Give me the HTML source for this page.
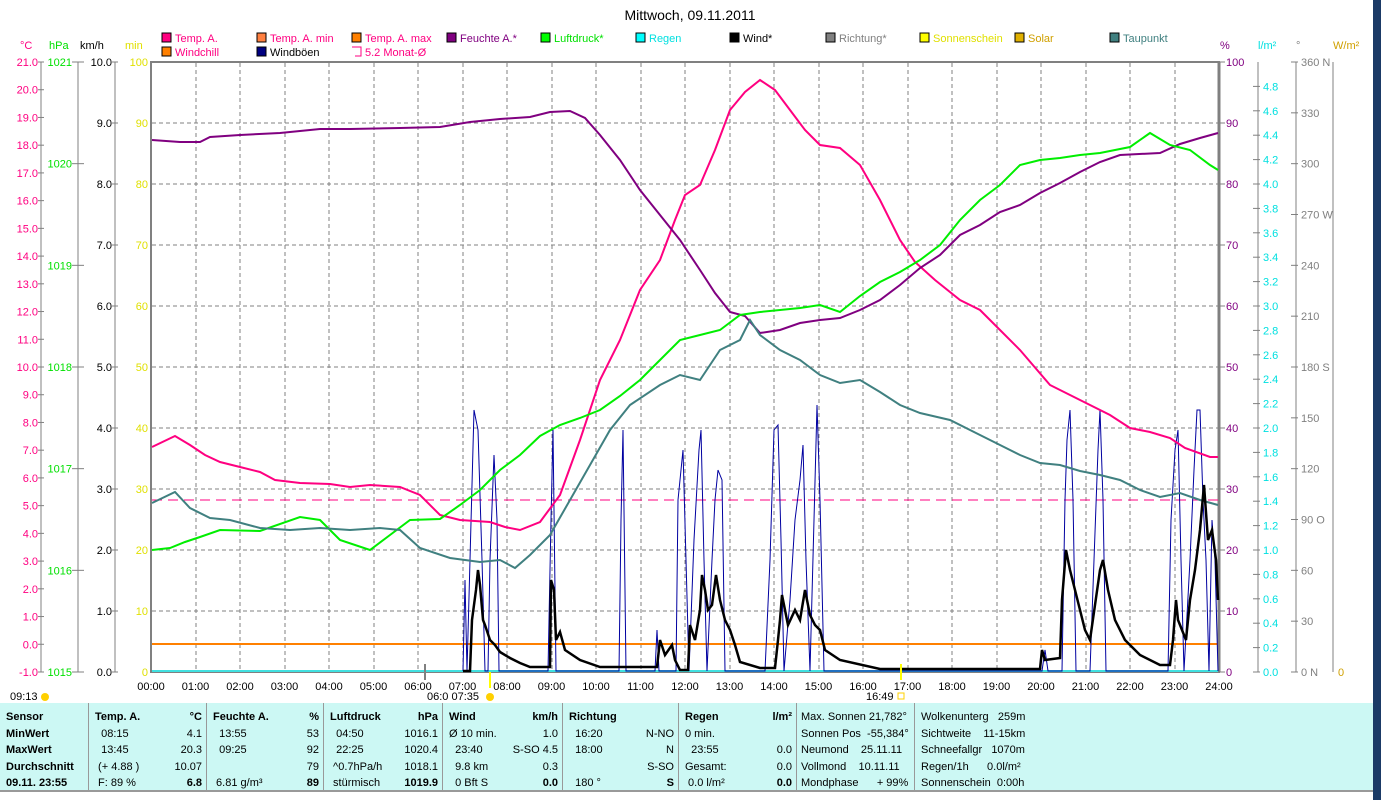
<!DOCTYPE html>
<html><head><meta charset="utf-8"><style>
body{margin:0;width:1381px;height:800px;overflow:hidden;background:#fff;font-family:"Liberation Sans",sans-serif;position:relative}
svg{position:absolute;left:0;top:0}
.t{position:absolute;top:703px;height:87px;background:#ccf8f4;left:0;width:1373px}
.col{position:absolute;top:703px;height:87px;border-left:1px solid #999;font-size:11px;line-height:16.5px;padding-top:6px;box-sizing:border-box}
.col div{display:flex;justify-content:space-between;white-space:pre}
b{font-weight:bold}
</style></head><body>
<svg width="1381" height="800" font-family="Liberation Sans, sans-serif" font-size="11">
<rect x="1373" y="0" width="8" height="800" fill="#1b3a66"/>
<text x="690" y="20" font-size="14" text-anchor="middle">Mittwoch, 09.11.2011</text>
<g font-size="11">
<rect x="162" y="33" width="9" height="9" fill="#ff0080" stroke="#000"/><text x="175" y="42" fill="#ff0080">Temp. A.</text>
<rect x="257" y="33" width="9" height="9" fill="#ff8040" stroke="#000"/><text x="270" y="42" fill="#ff0080">Temp. A. min</text>
<rect x="352" y="33" width="9" height="9" fill="#ff8000" stroke="#000"/><text x="365" y="42" fill="#ff0080">Temp. A. max</text>
<rect x="447" y="33" width="9" height="9" fill="#800080" stroke="#000"/><text x="460" y="42" fill="#800080">Feuchte A.*</text>
<rect x="541" y="33" width="9" height="9" fill="#00ff00" stroke="#000"/><text x="554" y="42" fill="#00e000">Luftdruck*</text>
<rect x="636" y="33" width="9" height="9" fill="#00ffff" stroke="#000"/><text x="649" y="42" fill="#00e0e0">Regen</text>
<rect x="730" y="33" width="9" height="9" fill="#000" stroke="#000"/><text x="743" y="42">Wind*</text>
<rect x="826" y="33" width="9" height="9" fill="#808080" stroke="#000"/><text x="839" y="42" fill="#808080">Richtung*</text>
<rect x="920" y="33" width="9" height="9" fill="#ffff00" stroke="#000"/><text x="933" y="42" fill="#e0e000">Sonnenschein</text>
<rect x="1015" y="33" width="9" height="9" fill="#e0b000" stroke="#000"/><text x="1028" y="42" fill="#d0a000">Solar</text>
<rect x="1110" y="33" width="9" height="9" fill="#408080" stroke="#000"/><text x="1123" y="42" fill="#408080">Taupunkt</text>
<rect x="162" y="47" width="9" height="9" fill="#ff8000" stroke="#000"/><text x="175" y="56" fill="#ff0080">Windchill</text>
<rect x="257" y="47" width="9" height="9" fill="#000080" stroke="#000"/><text x="270" y="56">Windböen</text>
<path d="M352 47h9v9h-6" fill="none" stroke="#ff0080"/><text x="365" y="56" fill="#ff0080">5.2 Monat-Ø</text>
</g>
<text x="20" y="49" fill="#ff0080">°C</text><text x="49" y="49" fill="#00e000">hPa</text><text x="80" y="49">km/h</text><text x="125" y="49" fill="#e0e000">min</text>
<text x="1220" y="49" fill="#800080">%</text><text x="1258" y="49" fill="#00e0e0">l/m²</text><text x="1296" y="49" fill="#808080">°</text><text x="1333" y="49" fill="#d0a000">W/m²</text>
<g stroke="#808080" stroke-width="1">
<line x1="41" y1="62" x2="41" y2="672"/><line x1="78" y1="62" x2="78" y2="672"/><line x1="115" y1="62" x2="115" y2="672"/>
<line x1="1258" y1="62" x2="1258" y2="672"/><line x1="1296" y1="62" x2="1296" y2="672"/><line x1="1333" y1="62" x2="1333" y2="672"/>
</g>
<g id="ax"></g>
<g stroke="#808080" stroke-dasharray="4,3" stroke-width="1">
<path d="M196 63V671M240 63V671M285 63V671M329 63V671M374 63V671M418 63V671M463 63V671M507 63V671M552 63V671M596 63V671M641 63V671M685 63V671M730 63V671M774 63V671M819 63V671M863 63V671M908 63V671M952 63V671M997 63V671M1041 63V671M1086 63V671M1130 63V671M1175 63V671"/>
<path d="M152 123H1219M152 184H1219M152 245H1219M152 306H1219M152 367H1219M152 428H1219M152 489H1219M152 550H1219M152 611H1219"/>
</g>
<rect x="151" y="62" width="1068" height="610" fill="none" stroke="#808080" stroke-width="2"/>
<line x1="1219" y1="62" x2="1219" y2="672" stroke="#808080" stroke-width="3"/>
<line x1="152" y1="500" x2="1218" y2="500" stroke="#ff0080" stroke-dasharray="10,6" stroke-width="1"/>
<line x1="152" y1="644" x2="1218" y2="644" stroke="#ff8000" stroke-width="2"/>
<line x1="152" y1="671" x2="1218" y2="671" stroke="#40e0e0" stroke-width="2"/>
<polyline fill="none" stroke="#0000a0" stroke-width="1" points="463,671 465,580 467,671 470,560 474,410 478,430 482,560 485,671 488,671 490,560 494,455 497,520 499,671 548,671 551,520 553,430 556,671 619,671 621,520 623,430 626,671 655,671 657,630 659,671 676,671 678,500 683,450 686,560 689,671 694,540 699,450 701,430 704,560 707,671 712,560 715,500 718,470 722,480 725,671 765,671 770,560 774,430 778,425 781,540 784,671 790,600 795,520 800,480 803,445 806,560 810,671 814,520 817,405 820,500 824,671 1042,671 1045,650 1048,671 1062,671 1065,500 1067,440 1070,410 1073,500 1076,671 1090,671 1094,560 1098,450 1100,410 1103,500 1106,671 1168,671 1171,520 1175,450 1178,430 1181,560 1184,671 1190,560 1194,470 1197,410 1200,410 1203,500 1206,560 1209,671 1212,520 1215,560 1218,671"/>
<polyline fill="none" stroke="#ff0080" stroke-width="2" points="152,447 175,436 190,445 205,455 220,462 240,467 260,472 275,480 300,483 330,484 350,487 370,485 400,487 420,495 440,515 460,520 490,522 505,527 520,530 540,522 560,495 580,440 600,380 620,340 640,290 660,260 675,220 685,195 700,185 715,150 730,110 745,92 760,80 775,90 790,110 805,130 820,145 840,148 860,165 880,200 900,240 915,262 935,280 960,300 980,310 1000,330 1020,350 1050,385 1080,400 1110,415 1130,428 1150,432 1170,438 1185,448 1210,457 1218,457"/>
<polyline fill="none" stroke="#800080" stroke-width="2" points="152,140 180,142 200,142 210,137 240,135 280,133 320,129 350,129 400,128 440,127 470,122 500,119 530,117 550,112 570,111 585,118 600,135 620,160 640,190 660,215 680,240 700,270 715,293 730,312 745,316 760,333 780,330 800,323 820,320 840,318 860,310 880,300 900,285 920,268 940,255 960,235 980,225 1000,212 1020,205 1040,193 1060,183 1080,172 1100,162 1120,155 1160,153 1180,144 1200,138 1218,133"/>
<polyline fill="none" stroke="#00ee00" stroke-width="2" points="152,550 170,548 185,542 200,537 220,530 260,531 300,517 320,520 340,540 370,550 390,535 410,520 440,519 460,505 480,490 500,470 520,455 540,436 560,425 580,418 600,410 620,396 640,380 660,360 680,340 700,335 720,330 740,315 760,312 780,310 800,308 820,305 840,312 860,296 880,282 900,272 920,260 940,245 960,220 980,200 1000,185 1020,165 1040,160 1060,158 1080,155 1100,153 1130,147 1150,133 1170,145 1190,150 1210,165 1218,170"/>
<polyline fill="none" stroke="#408080" stroke-width="2" points="152,503 175,492 190,508 210,518 230,520 260,528 290,530 320,528 350,530 380,528 400,530 420,548 450,558 480,562 500,560 515,568 530,555 550,535 570,500 590,465 610,430 630,405 660,385 680,375 700,380 720,350 740,340 750,320 760,335 780,350 800,360 820,375 840,383 860,380 880,392 900,405 920,413 950,420 980,435 1000,445 1020,455 1040,463 1060,465 1080,471 1100,475 1120,480 1140,490 1160,497 1180,493 1200,500 1218,505"/>
<polyline fill="none" stroke="#000" stroke-width="2.5" points="463,671 470,671 472,620 476,590 478,570 480,585 483,620 485,625 490,640 495,645 500,652 510,658 520,663 530,667 550,667 551,580 554,590 556,640 560,632 565,650 580,660 600,667 657,667 660,640 665,655 672,645 675,660 680,670 688,670 690,625 695,640 700,610 702,575 705,590 708,610 712,605 716,575 720,600 725,620 730,630 735,645 740,662 760,668 775,668 778,640 780,620 782,595 788,625 795,610 800,620 805,590 810,615 815,625 820,630 825,650 840,660 880,669 1040,669 1042,650 1045,660 1060,658 1062,600 1066,550 1070,570 1075,590 1080,610 1085,630 1090,640 1095,605 1100,570 1103,560 1108,590 1115,620 1125,640 1140,655 1160,665 1170,665 1173,640 1176,600 1178,620 1182,630 1186,640 1190,600 1195,570 1200,530 1204,485 1208,540 1212,530 1216,560 1218,600"/>
<line x1="490" y1="672" x2="490" y2="688" stroke="#ffff00" stroke-width="2"/>
<line x1="901" y1="664" x2="901" y2="680" stroke="#ffff00" stroke-width="2"/>
<line x1="425" y1="664" x2="425" y2="680" stroke="#808080" stroke-width="2"/>
<g font-size="11" text-anchor="middle" id="xl"></g>
<text x="10" y="700" font-size="11">09:13</text><circle cx="45" cy="697" r="4" fill="#ffd000"/>
<text x="427" y="700" font-size="11">06:0  07:35</text><circle cx="490" cy="697" r="4" fill="#ffd000"/>
<text x="866" y="700" font-size="11">16:49</text><rect x="898" y="693" width="6" height="6" fill="none" stroke="#ffd000"/>
<line x1="0" y1="791" x2="1373" y2="791" stroke="#999" stroke-width="2"/>
</svg>
<div class="t"></div>
<div class="col" style="left:6px;width:80px;border:none"><b>Sensor</b><br><b>MinWert</b><br><b>MaxWert</b><br><b>Durchschnitt</b><br><b>09.11. 23:55</b></div>
<div class="col" style="left:88px;width:118px;padding:6px 4px 0 6px"><div><b>Temp. A.</b><b>°C</b></div><div><span>  08:15</span><span>4.1</span></div><div><span>  13:45</span><span>20.3</span></div><div><span> (+ 4.88 )</span><span>10.07</span></div><div><span> F: 89 %</span><b>6.8</b></div></div>
<div class="col" style="left:206px;width:117px;padding:6px 4px 0 6px"><div><b>Feuchte A.</b><b>%</b></div><div><span>  13:55</span><span>53</span></div><div><span>  09:25</span><span>92</span></div><div><span></span><span>79</span></div><div><span> 6.81 g/m³</span><b>89</b></div></div>
<div class="col" style="left:323px;width:119px;padding:6px 4px 0 6px"><div><b>Luftdruck</b><b>hPa</b></div><div><span>  04:50</span><span>1016.1</span></div><div><span>  22:25</span><span>1020.4</span></div><div><span> ^0.7hPa/h</span><span>1018.1</span></div><div><span> stürmisch</span><b>1019.9</b></div></div>
<div class="col" style="left:442px;width:120px;padding:6px 4px 0 6px"><div><b>Wind</b><b>km/h</b></div><div><span>Ø 10 min.</span><span>1.0</span></div><div><span>  23:40</span><span>S-SO 4.5</span></div><div><span>  9.8 km</span><span>0.3</span></div><div><span>  0 Bft S</span><b>0.0</b></div></div>
<div class="col" style="left:562px;width:116px;padding:6px 4px 0 6px"><div><b>Richtung</b><b></b></div><div><span>  16:20</span><span>N-NO</span></div><div><span>  18:00</span><span>N</span></div><div><span></span><span>S-SO</span></div><div><span>  180 °</span><b>S</b></div></div>
<div class="col" style="left:678px;width:118px;padding:6px 4px 0 6px"><div><b>Regen</b><b>l/m²</b></div><div><span>0 min.</span><span></span></div><div><span>  23:55</span><span>0.0</span></div><div><span>Gesamt:</span><span>0.0</span></div><div><span> 0.0 l/m²</span><b>0.0</b></div></div>
<div class="col" style="left:796px;width:118px;padding:6px 2px 0 4px"><div>Max. Sonnen 21,782°</div><div>Sonnen Pos  -55,384°</div><div>Neumond    25.11.11</div><div>Vollmond    10.11.11</div><div>Mondphase      + 99%</div></div>
<div class="col" style="left:914px;width:140px;padding:6px 2px 0 6px"><div>Wolkenunterg   259m</div><div>Sichtweite    11-15km</div><div>Schneefallgr   1070m</div><div>Regen/1h      0.0l/m²</div><div>Sonnenschein  0:00h</div></div>
<script>
var ns="http://www.w3.org/2000/svg",ax=document.getElementById("ax"),xl=document.getElementById("xl");
function T(x,y,s,c,a,p){var t=document.createElementNS(ns,"text");t.setAttribute("x",x);t.setAttribute("y",y);t.setAttribute("fill",c);t.setAttribute("text-anchor",a||"end");t.textContent=s;(p||ax).appendChild(t);}
function L(x1,x2,y){var l=document.createElementNS(ns,"line");l.setAttribute("x1",x1);l.setAttribute("x2",x2);l.setAttribute("y1",y);l.setAttribute("y2",y);l.setAttribute("stroke","#808080");ax.appendChild(l);}
for(var i=0;i<=22;i++){var y=62+i*610/22;T(38,y+4,(21-i).toFixed(1),"#ff0080");L(38,44,y);}
for(var i=0;i<=6;i++){var y=62+i*610/6;T(72,y+4,1021-i,"#00e000");L(72,84,y);}
for(var i=0;i<=10;i++){var y=62+i*61;T(112,y+4,(10-i).toFixed(1),"#000");L(112,118,y);T(148,y+4,100-i*10,"#e0e000");T(1226,y+4,100-i*10,"#800080","start");L(1219,1225,y);}
for(var i=1;i<=25;i++){var y=62+i*24.4;T(1263,y+4,(5-i*0.2).toFixed(1),"#00e0e0","start");L(1253,1260,y);}
var d=["360 N","330","300","270 W","240","210","180 S","150","120","90  O","60","30","0   N"];
for(var i=0;i<=12;i++){var y=62+i*610/12;T(1301,y+4,d[i],"#808080","start");L(1291,1298,y);}
T(1338,676,"0","#d0a000","start");
for(var h=0;h<=24;h++){T(151+h*44.5,690,(h<10?"0":"")+h+":00","#000","middle",xl);}
</script>
</body></html>
